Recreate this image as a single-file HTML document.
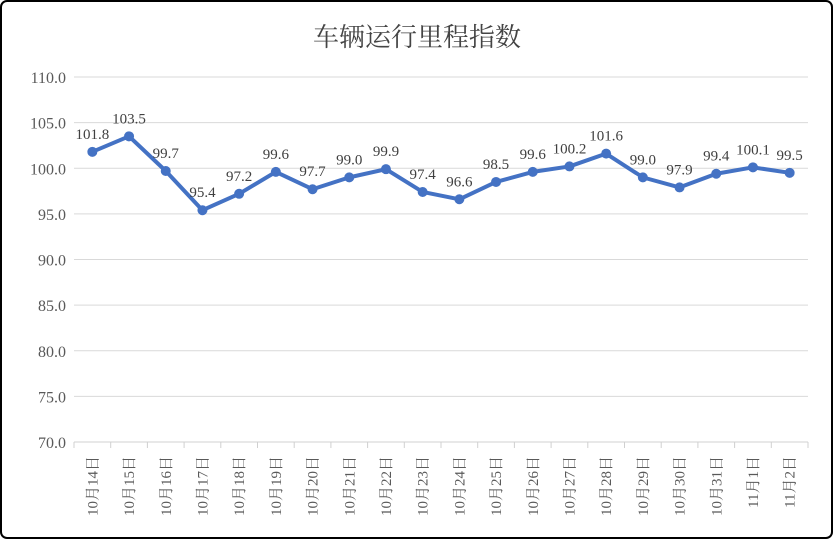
<!DOCTYPE html>
<html><head><meta charset="utf-8"><style>
body{margin:0;background:#fff}
svg{display:block}
text{font-family:"Liberation Serif","Noto Serif CJK SC",serif}
</style></head><body>
<svg id="c" width="833" height="539">
<rect x="1" y="1" width="831" height="537" rx="6" fill="#fff" stroke="#000" stroke-width="2"/>
<text x="417" y="46" text-anchor="middle" font-size="26" fill="#444">车辆运行里程指数</text>
</svg>
<script>
const categories=["10月14日","10月15日","10月16日","10月17日","10月18日","10月19日","10月20日","10月21日","10月22日","10月23日","10月24日","10月25日","10月26日","10月27日","10月28日","10月29日","10月30日","10月31日","11月1日","11月2日"];
const values=[101.8,103.5,99.7,95.4,97.2,99.6,97.7,99.0,99.9,97.4,96.6,98.5,99.6,100.2,101.6,99.0,97.9,99.4,100.1,99.5];
const yTicks=[70,75,80,85,90,95,100,105,110];
const svg=document.getElementById('c');const NS='http://www.w3.org/2000/svg';
const L=74,R=808,T=77,B=442,yMin=70,yMax=110;
const bw=(R-L)/categories.length;
const x=i=>L+bw*(i+0.5);
const y=v=>B-(v-yMin)/(yMax-yMin)*(B-T);
function mk(t,a,txt){const e=document.createElementNS(NS,t);for(const k in a)e.setAttribute(k,a[k]);if(txt!=null)e.textContent=txt;svg.appendChild(e);return e;}
yTicks.forEach(t=>{
 const g=mk('line',{x1:L,x2:R,y1:y(t),y2:y(t),stroke:t===yMin?'#d0d0d0':'#d9d9d9','stroke-width':1});
 
 
 const l=mk('text',{x:L-8,y:y(t)+6,'text-anchor':'end','font-size':16,fill:'#595959'},t.toFixed(1));
 
 
});
for(let i=0;i<=categories.length;i++){
 const tk=mk('line',{x1:L+bw*i,x2:L+bw*i,y1:B,y2:B+6,stroke:'#d0d0d0'});
 
 
}
categories.forEach((c,i)=>{
 const t=mk('text',{x:0,y:0,'text-anchor':'end','font-size':15,fill:'#595959',transform:`translate(${x(i)+5},${B+14}) rotate(-90)`},c);
 
 
});
const p=mk('polyline',{points:values.map((v,i)=>x(i)+','+y(v)).join(' '),fill:'none',stroke:'#4472c4','stroke-width':4,'stroke-linejoin':'round'});


values.forEach((v,i)=>{
 const d=mk('circle',{cx:x(i),cy:y(v),r:5,fill:'#4472c4'});
 
 
 const t=mk('text',{x:x(i),y:y(v)-13,'text-anchor':'middle','font-size':15,fill:'#404040'},v.toFixed(1));
 
 
});
</script>
</body></html>
